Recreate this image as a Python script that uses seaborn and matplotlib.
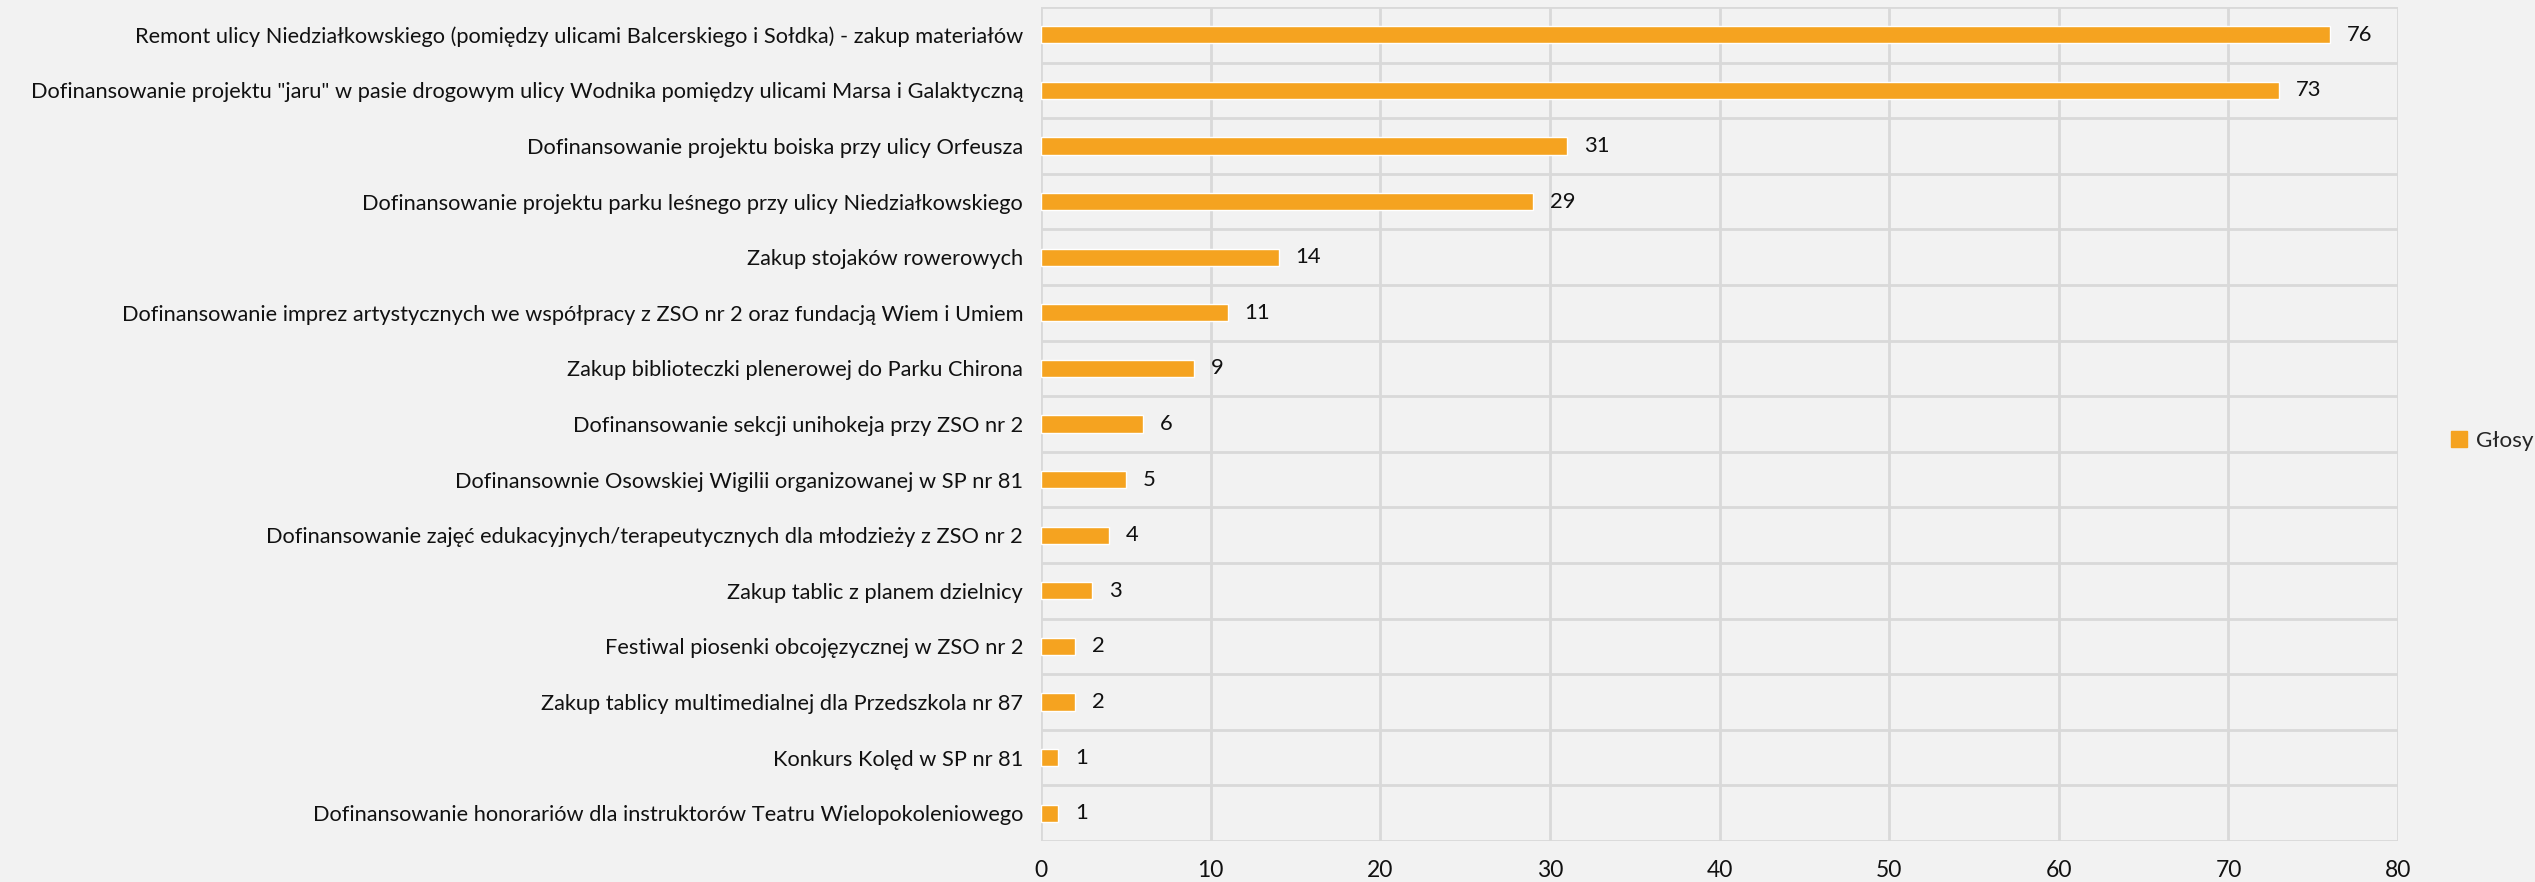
import pandas as pd
import matplotlib.pyplot as plt
import seaborn as sns
from matplotlib.patches import Patch

# Dane z wykresu
projekty = [
    'Remont ulicy Niedziałkowskiego (pomiędzy ulicami Balcerskiego i Sołdka) - zakup materiałów',
    'Dofinansowanie projektu "jaru" w pasie drogowym ulicy Wodnika pomiędzy ulicami Marsa i Galaktyczną',
    'Dofinansowanie projektu boiska przy ulicy Orfeusza',
    'Dofinansowanie projektu parku leśnego przy ulicy Niedziałkowskiego',
    'Zakup stojaków rowerowych',
    'Dofinansowanie imprez artystycznych we współpracy z ZSO nr 2 oraz fundacją Wiem i Umiem',
    'Zakup biblioteczki plenerowej do Parku Chirona',
    'Dofinansowanie sekcji unihokeja przy ZSO nr 2',
    'Dofinansownie Osowskiej Wigilii organizowanej w SP nr 81',
    'Dofinansowanie zajęć edukacyjnych/terapeutycznych dla młodzieży z ZSO nr 2',
    'Zakup tablic z planem dzielnicy',
    'Festiwal piosenki obcojęzycznej w ZSO nr 2',
    'Zakup tablicy multimedialnej dla Przedszkola nr 87',
    'Konkurs Kolęd w SP nr 81',
    'Dofinansowanie honorariów dla instruktorów Teatru Wielopokoleniowego',
]
glosy = [76, 73, 31, 29, 14, 11, 9, 6, 5, 4, 3, 2, 2, 1, 1]
x_ticks = [0, 10, 20, 30, 40, 50, 60, 70, 80]

df = pd.DataFrame({'projekt': projekty, 'glosy': glosy})

bg = '#f2f2f2'
kolor = '#f5a320'
siatka = '#d9d9d9'

sns.set_theme(style='white')
plt.rcParams['font.family'] = ['Lato', 'DejaVu Sans']

fig = plt.figure(figsize=(25.35, 8.82), dpi=100, facecolor=bg)
ax = fig.add_axes([0.4107, 0.0465, 0.5353, 0.9455])
ax.set_facecolor(bg)

sns.barplot(data=df, x='glosy', y='projekt', color=kolor, width=0.31,
            saturation=1, ax=ax)

# etykiety z wartościami
for i, v in enumerate(glosy):
    ax.text(v + 1.0, i, str(v), va='center', ha='left', fontsize=15.8, color='#111111')

ax.set_xlim(0, 80)
ax.set_ylim(len(projekty) - 0.5, -0.5)
ax.set_xticks(x_ticks)
ax.set_xticklabels([str(t) for t in x_ticks], fontsize=16.5, color='#111111')
ax.tick_params(axis='y', labelsize=15.7, labelcolor='#111111', length=0, pad=13)
ax.tick_params(axis='x', length=0, pad=14)

# siatka między kategoriami
ax.set_yticks([i + 0.5 for i in range(-1, len(projekty))], minor=True)
ax.grid(True, axis='x', color=siatka, linewidth=2)
ax.grid(True, axis='y', which='minor', color=siatka, linewidth=2)
ax.grid(False, axis='y', which='major')
ax.set_axisbelow(True)
for s in ax.spines.values():
    s.set_visible(False)
ax.tick_params(axis='y', which='minor', length=0)

ax.set_xlabel('')
ax.set_ylabel('')

fig.legend(handles=[Patch(color=kolor, label='Głosy')], loc='center left',
           bbox_to_anchor=(0.967, 0.5), frameon=False, fontsize=16.2,
           borderaxespad=0, borderpad=0,
           handlelength=0.7, handleheight=0.7, handletextpad=0.4)

plt.savefig('out.png', dpi=100, facecolor=bg)
